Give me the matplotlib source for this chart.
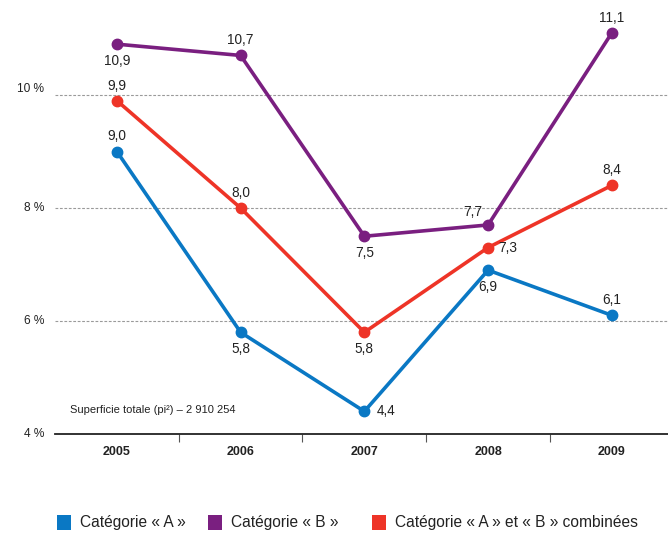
import matplotlib
matplotlib.use("Agg")
import matplotlib.pyplot as plt
import matplotlib.transforms as mtrans
from matplotlib.patches import Rectangle

plt.rcParams['font.family'] = ['Liberation Sans', 'DejaVu Sans']

years = ["2005", "2006", "2007", "2008", "2009"]
cat_a = [9.0, 5.8, 4.4, 6.9, 6.1]
cat_b = [10.9, 10.7, 7.5, 7.7, 11.1]
cat_ab = [9.9, 8.0, 5.8, 7.3, 8.4]
yticks = [4, 6, 8, 10]
ytick_labels = ["4 %", "6 %", "8 %", "10 %"]
legend_labels = ["Catégorie « A »", "Catégorie « B »", "Catégorie « A » et « B » combinées"]
note = "Superficie totale (pi²) – 2 910 254"

c_a = "#0a78c4"
c_b = "#7a1f80"
c_ab = "#ee3427"

W, H = 668, 533
fig = plt.figure(figsize=(W / 100, H / 100), dpi=100)
ax = fig.add_axes([55 / W, 99 / H, 1 - 55 / W, 434 / H])

x = list(range(len(years)))
xr = 4.5 - 5.7 / 123.7
ax.set_xlim(-0.5, xr)
ax.set_ylim(4, 4 + 434 / 56.5)

for v in yticks[1:]:
    ax.hlines(v, -0.5, xr, colors="#9a9a9a", linestyles=(0, (2.5, 1.5)), linewidth=0.8, zorder=1)

for ys, col in [(cat_a, c_a), (cat_ab, c_ab), (cat_b, c_b)]:
    ax.plot(x, ys, color=col, lw=2.6, marker="o", ms=7.5, zorder=3, solid_joinstyle="miter")

def fmt(v):
    return f"{v:.1f}".replace(".", ",")

# label offsets (dx px, dy px, ha, va)
off_a = [(0, 8, "center", "bottom"), (0, -10, "center", "top"), (12, 0, "left", "center"),
         (0, -10, "center", "top"), (0, 8, "center", "bottom")]
off_b = [(0, -10, "center", "top"), (0, 8, "center", "bottom"), (0, -10, "center", "top"),
         (-6, 6, "right", "bottom"), (0, 8, "center", "bottom")]
off_ab = [(0, 8, "center", "bottom"), (0, 8, "center", "bottom"), (0, -10, "center", "top"),
          (10, 0, "left", "center"), (0, 8, "center", "bottom")]
for ys, offs in [(cat_a, off_a), (cat_b, off_b), (cat_ab, off_ab)]:
    for xi, v, (dx, dy, ha, va) in zip(x, ys, offs):
        ax.annotate(fmt(v), (xi, v), xytext=(dx * 0.72, dy * 0.72), textcoords="offset points",
                    ha=ha, va=va, fontsize=9.8, color="#222222", zorder=4)

for s in ["top", "right", "left"]:
    ax.spines[s].set_visible(False)
ax.spines["bottom"].set_color("#222222")
ax.spines["bottom"].set_linewidth(1.3)

ax.set_yticks(yticks)
ax.set_yticklabels([])
ax.tick_params(axis="y", length=0)
ytrans = mtrans.blended_transform_factory(fig.transFigure, ax.transData)
for v, lab in zip(yticks, ytick_labels):
    dy = 6 if v == 10 else 0
    t = ax.text(44 / W, v, lab, transform=ytrans + mtrans.ScaledTranslation(0, dy / 100, fig.dpi_scale_trans),
                ha="right", va="center", fontsize=8.6, color="#222222")

ax.set_xticks([i + 0.5 for i in range(len(years) - 1)])
ax.set_xticklabels([])
ax.tick_params(axis="x", length=6, width=0.8, color="#555555", direction="out")
for xi, lab in zip(x, years):
    ax.text(xi, -0.028, lab, transform=ax.get_xaxis_transform(), ha="center", va="top",
            fontsize=9, fontweight="bold", color="#222222")

ax.text(70 / W, (H - 410) / H, note, transform=fig.transFigure, fontsize=8.0,
        ha="left", va="center", color="#222222")

# legend
for px, lab, col in [(57, legend_labels[0], c_a), (208, legend_labels[1], c_b), (372, legend_labels[2], c_ab)]:
    fig.patches.append(Rectangle((px / W, (H - 530) / H), 14 / W, 15 / H, transform=fig.transFigure,
                                 facecolor=col, edgecolor="none"))
    fig.text((px + 23) / W, (H - 522) / H, lab, fontsize=11.2, ha="left", va="center", color="#222222")

fig.savefig("out.png", dpi=100)
